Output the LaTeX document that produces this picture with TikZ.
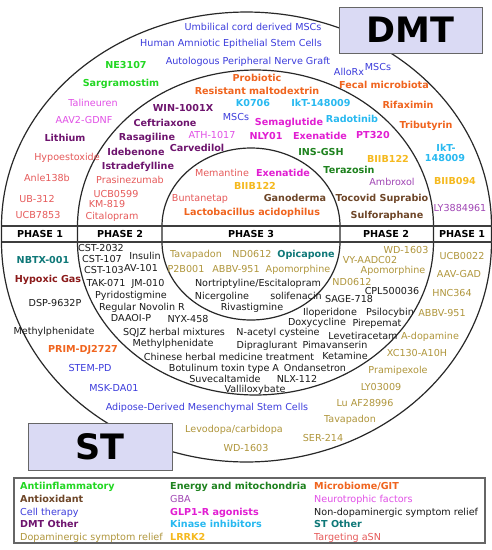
\documentclass[tikz,border=0pt]{standalone}
\usepackage{fontspec}
\setmainfont{DejaVu Sans}
\newcommand\lblfont{\fontsize{9.6}{11.5}\selectfont}
\definecolor{cAinf}{RGB}{34,215,34}
\definecolor{cAox}{RGB}{110,70,40}
\definecolor{cCel}{RGB}{60,60,220}
\definecolor{cDmto}{RGB}{110,20,110}
\definecolor{cDopa}{RGB}{176,150,60}
\definecolor{cNrg}{RGB}{30,130,30}
\definecolor{cGba}{RGB}{160,70,180}
\definecolor{cGlp}{RGB}{225,30,210}
\definecolor{cKin}{RGB}{40,185,240}
\definecolor{cLrk}{RGB}{245,185,30}
\definecolor{cMic}{RGB}{240,100,30}
\definecolor{cNeu}{RGB}{225,80,230}
\definecolor{cNdop}{RGB}{26,26,26}
\definecolor{cSto}{RGB}{15,120,120}
\definecolor{cAsn}{RGB}{230,90,90}
\definecolor{cHyp}{RGB}{139,26,26}
\definecolor{boxfill}{RGB}{218,218,244}
\definecolor{ringcol}{RGB}{40,40,40}
\begin{document}
\begin{tikzpicture}[x=1pt,y=-1pt,
  lbl/.style={inner sep=0pt, text height=7pt, text depth=0pt, font=\lblfont},
  lblb/.style={lbl, font=\lblfont\bfseries},
  sAinf/.style={lblb, text=cAinf},
  sAox/.style={lblb, text=cAox},
  sCel/.style={lbl, text=cCel},
  sDmto/.style={lblb, text=cDmto},
  sDopa/.style={lbl, text=cDopa},
  sNrg/.style={lblb, text=cNrg},
  sGba/.style={lbl, text=cGba},
  sGlp/.style={lblb, text=cGlp},
  sKin/.style={lblb, text=cKin},
  sLrk/.style={lblb, text=cLrk},
  sMic/.style={lblb, text=cMic},
  sNeu/.style={lbl, text=cNeu},
  sNdop/.style={lbl, text=cNdop},
  sSto/.style={lblb, text=cSto},
  sAsn/.style={lbl, text=cAsn},
  sHyp/.style={lblb, text=cHyp},
  sPhase/.style={lblb, text=black},
  ring/.style={draw=ringcol, line width=1.2pt},
  bandline/.style={draw=ringcol!90, line width=1.8pt},
  bigbox/.style={draw=gray!80!black, fill=boxfill, line width=1pt, inner sep=0pt,
    font=\fontsize{35}{40}\selectfont\bfseries},
  legitem/.style={anchor=west}
]
\useasboundingbox[fill=white] (0,0) rectangle (492,550);

% rings (top half-ellipse, band, bottom half-ellipse)
\draw[ring] plot[domain=0:180,samples=120] ({246.5+245*cos(\x)},{226-214*sin(\x)})
  -- plot[domain=180:360,samples=120] ({246.5+245*cos(\x)},{242-220*sin(\x)}) -- cycle;
\draw[ring] plot[domain=0:180,samples=100] ({255.5+178*cos(\x)},{226-156*sin(\x)})
  -- plot[domain=180:360,samples=100] ({255.5+178*cos(\x)},{242-153*sin(\x)}) -- cycle;
\draw[ring] plot[domain=0:180,samples=80] ({251+89*cos(\x)},{226-78*sin(\x)})
  -- plot[domain=180:360,samples=80] ({251+89*cos(\x)},{242-78*sin(\x)}) -- cycle;

% phase band
\coordinate (bandTL) at (1.5,226);
\coordinate (bandTR) at (491.5,226);
\coordinate (bandBL) at (1.5,242);
\coordinate (bandBR) at (491.5,242);
\draw[bandline] (bandTL) -- (bandTR);
\draw[bandline] (bandBL) -- (bandBR);
\node[sPhase] (ph1l) at (40,234) {PHASE 1};
\node[sPhase] (ph2l) at (120,234) {PHASE 2};
\node[sPhase] (ph3) at (251,234) {PHASE 3};
\node[sPhase] (ph2r) at (386,234) {PHASE 2};
\node[sPhase] (ph1r) at (462,234) {PHASE 1};

% boxes
\node[bigbox, minimum width=143pt, minimum height=46pt] (dmt) at (410.5,30) {DMT};
\node[bigbox, minimum width=144pt, minimum height=47pt] (st) at (100,446.5) {ST};

% ---- top, phase 1 ----
\node[sCel] (t1) at (253,27) {Umbilical cord derived MSCs};
\node[sCel] (t2) at (231,43) {Human Amniotic Epithelial Stem Cells};
\node[sCel] (t3) at (248,61) {Autologous Peripheral Nerve Graft};
\node[sAinf] (t4) at (126,65) {NE3107};
\node[sCel] (t5) at (349,72) {AlloRx};
\node[sCel] (t5b) at (378,67) {MSCs};
\node[sAinf] (t6) at (121,83) {Sargramostim};
\node[sMic] (t7) at (384,85) {Fecal microbiota};
\node[sNeu] (t8) at (93,103) {Talineuren};
\node[sMic] (t9) at (408,105) {Rifaximin};
\node[sNeu] (t10) at (84,120) {AAV2-GDNF};
\node[sMic] (t11) at (426,125) {Tributyrin};
\node[sDmto] (t12) at (65,138) {Lithium};
\node[sAsn] (t13) at (67,157) {Hypoestoxide};
\node[sAsn] (t14) at (47,178) {Anle138b};
\node[sAsn] (t15) at (37,199) {UB-312};
\node[sAsn] (t16) at (38,215) {UCB7853};
\node[sKin] (t17) at (446,148) {IkT-};
\node[sKin] (t17b) at (445,158) {148009};
\node[sLrk] (t18) at (455,181) {BIIB094};
\node[sGba] (t19) at (460,208) {LY3884961};

% ---- top, phase 2 ----
\node[sMic] (m1) at (257,78) {Probiotic};
\node[sMic] (m2) at (257,91) {Resistant maltodextrin};
\node[sDmto] (m3) at (183,108) {WIN-1001X};
\node[sKin] (m4) at (253,103) {K0706};
\node[sKin] (m5) at (321,103) {IkT-148009};
\node[sDmto] (m6) at (165,123) {Ceftriaxone};
\node[sCel] (m7) at (236,117) {MSCs};
\node[sGlp] (m8) at (289,122) {Semaglutide};
\node[sKin] (m9) at (352,119) {Radotinib};
\node[sDmto] (m10) at (147,137) {Rasagiline};
\node[sNeu] (m11) at (212,135) {ATH-1017};
\node[sGlp] (m12) at (266,136) {NLY01};
\node[sGlp] (m13) at (320,136) {Exenatide};
\node[sGlp] (m14) at (373,135) {PT320};
\node[sDmto] (m15) at (197,148) {Carvedilol};
\node[sDmto] (m16) at (136,152) {Idebenone};
\node[sNrg] (m17) at (321,152) {INS-GSH};
\node[sDmto] (m18) at (138,166) {Istradefylline};
\node[sLrk] (m19) at (388,159) {BIIB122};
\node[sNrg] (m20) at (349,170) {Terazosin};
\node[sAsn] (m21) at (130,180) {Prasinezumab};
\node[sGba] (m22) at (392,182) {Ambroxol};
\node[sAsn] (m23) at (116,194) {UCB0599};
\node[sAox] (m24) at (382,198) {Tocovid Suprabio};
\node[sAsn] (m25) at (107,204) {KM-819};
\node[sAox] (m26) at (387,215) {Sulforaphane};
\node[sAsn] (m27) at (112,216) {Citalopram};

% ---- top, phase 3 ----
\node[sAsn] (i1) at (222,173) {Memantine};
\node[sGlp] (i2) at (283,173) {Exenatide};
\node[sLrk] (i3) at (255,186) {BIIB122};
\node[sAsn] (i4) at (200,198) {Buntanetap};
\node[sAox] (i5) at (295,198) {Ganoderma};
\node[sMic] (i6) at (252,212) {Lactobacillus acidophilus};

% ---- bottom, phase 3 ----
\node[sDopa] (j1) at (196,254) {Tavapadon};
\node[sDopa] (j2) at (252,254) {ND0612};
\node[sSto] (j3) at (306,254) {Opicapone};
\node[sDopa] (j4) at (186,269) {P2B001};
\node[sDopa] (j5) at (236,269) {ABBV-951};
\node[sDopa] (j6) at (298,269) {Apomorphine};
\node[sNdop] (j7) at (258,283) {Nortriptyline/Escitalopram};
\node[sNdop] (j8) at (222,296) {Nicergoline};
\node[sNdop] (j9) at (296,296) {solifenacin};
\node[sNdop] (j10) at (252,307) {Rivastigmine};

% ---- bottom, phase 2 ----
\node[sNdop] (k1) at (101,248) {CST-2032};
\node[sNdop] (k2) at (102,259) {CST-107};
\node[sNdop] (k3) at (145,256) {Insulin};
\node[sNdop] (k4) at (104,270) {CST-103};
\node[sNdop] (k5) at (141,268) {AV-101};
\node[sNdop] (k6) at (106,283) {TAK-071};
\node[sNdop] (k7) at (148,283) {JM-010};
\node[sNdop] (k8) at (131,295) {Pyridostigmine};
\node[sNdop] (k9) at (142,307) {Regular Novolin R};
\node[sNdop] (k10) at (131,318) {DAAOI-P};
\node[sNdop] (k11) at (188,319) {NYX-458};
\node[sNdop] (k12) at (174,332) {SQJZ herbal mixtures};
\node[sNdop] (k13) at (173,343) {Methylphenidate};
\node[sNdop] (k14) at (229,357) {Chinese herbal medicine treatment};
\node[sNdop] (k15) at (224,368) {Botulinum toxin type A};
\node[sNdop] (k16) at (225,379) {Suvecaltamide};
\node[sNdop] (k17) at (297,379) {NLX-112};
\node[sNdop] (k18) at (255,389) {Valliloxybate};
\node[sNdop] (k19) at (278,332) {N-acetyl cysteine};
\node[sNdop] (k20) at (267,345) {Dipraglurant};
\node[sNdop] (k21) at (315,368) {Ondansetron};
\node[sNdop] (k22) at (317,322) {Doxycycline};
\node[sNdop] (k23) at (335,345) {Pimavanserin};
\node[sNdop] (k24) at (345,356) {Ketamine};
\node[sNdop] (k25) at (363,336) {Levetiracetam};
\node[sNdop] (k26) at (377,323) {Pirepemat};
\node[sNdop] (k27) at (330,312) {Iloperidone};
\node[sNdop] (k28) at (390,312) {Psilocybin};
\node[sNdop] (k29) at (349,299) {SAGE-718};
\node[sNdop] (k30) at (392,291) {CPL500036};
\node[sDopa] (k31) at (352,282) {ND0612};
\node[sDopa] (k32) at (393,270) {Apomorphine};
\node[sDopa] (k33) at (370,260) {VY-AADC02};
\node[sDopa] (k34) at (406,250) {WD-1603};

% ---- bottom, phase 1 ----
\node[sSto] (b1) at (43,260) {NBTX-001};
\node[sHyp] (b2) at (48,279) {Hypoxic Gas};
\node[sNdop] (b3) at (55,303) {DSP-9632P};
\node[sNdop] (b4) at (54,331) {Methylphenidate};
\node[sMic] (b5) at (83,349) {PRIM-DJ2727};
\node[sCel] (b6) at (90,368) {STEM-PD};
\node[sCel] (b7) at (114,388) {MSK-DA01};
\node[sCel] (b8) at (207,407) {Adipose-Derived Mesenchymal Stem Cells};
\node[sDopa] (b9) at (462,256) {UCB0022};
\node[sDopa] (b10) at (459,274) {AAV-GAD};
\node[sDopa] (b11) at (452,293) {HNC364};
\node[sDopa] (b12) at (442,313) {ABBV-951};
\node[sDopa] (b13) at (430,336) {A-dopamine};
\node[sDopa] (b14) at (417,353) {XC130-A10H};
\node[sDopa] (b15) at (398,370) {Pramipexole};
\node[sDopa] (b16) at (381,387) {LY03009};
\node[sDopa] (b17) at (365,403) {Lu AF28996};
\node[sDopa] (b18) at (350,419) {Tavapadon};
\node[sDopa] (b19) at (323,438) {SER-214};
\node[sDopa] (b20) at (234,429) {Levodopa/carbidopa};
\node[sDopa] (b21) at (246,448) {WD-1603};

% ---- legend ----
\node[draw=gray!80!black, line width=1.2pt, fill=white, minimum width=471pt, minimum height=65pt, inner sep=0pt] (legend) at (249.5,510.5) {};
\node[sAinf, legitem] (l1) at (20,486) {Antiinflammatory};
\node[sAox, legitem] (l2) at (20,498.75) {Antioxidant};
\node[sCel, legitem] (l3) at (20,511.5) {Cell therapy};
\node[sDmto, legitem] (l4) at (20,524.25) {DMT Other};
\node[sDopa, legitem] (l5) at (20,537) {Dopaminergic symptom relief};
\node[sNrg, legitem] (l6) at (170,486) {Energy and mitochondria};
\node[sGba, legitem] (l7) at (170,498.75) {GBA};
\node[sGlp, legitem] (l8) at (170,511.5) {GLP1-R agonists};
\node[sKin, legitem] (l9) at (170,524.25) {Kinase inhibitors};
\node[sLrk, legitem] (l10) at (170,537) {LRRK2};
\node[sMic, legitem] (l11) at (314,486) {Microbiome/GIT};
\node[sNeu, legitem] (l12) at (314,498.75) {Neurotrophic factors};
\node[sNdop, legitem] (l13) at (314,511.5) {Non-dopaminergic symptom relief};
\node[sSto, legitem] (l14) at (314,524.25) {ST Other};
\node[sAsn, legitem] (l15) at (314,537) {Targeting aSN};
\end{tikzpicture}
\end{document}
